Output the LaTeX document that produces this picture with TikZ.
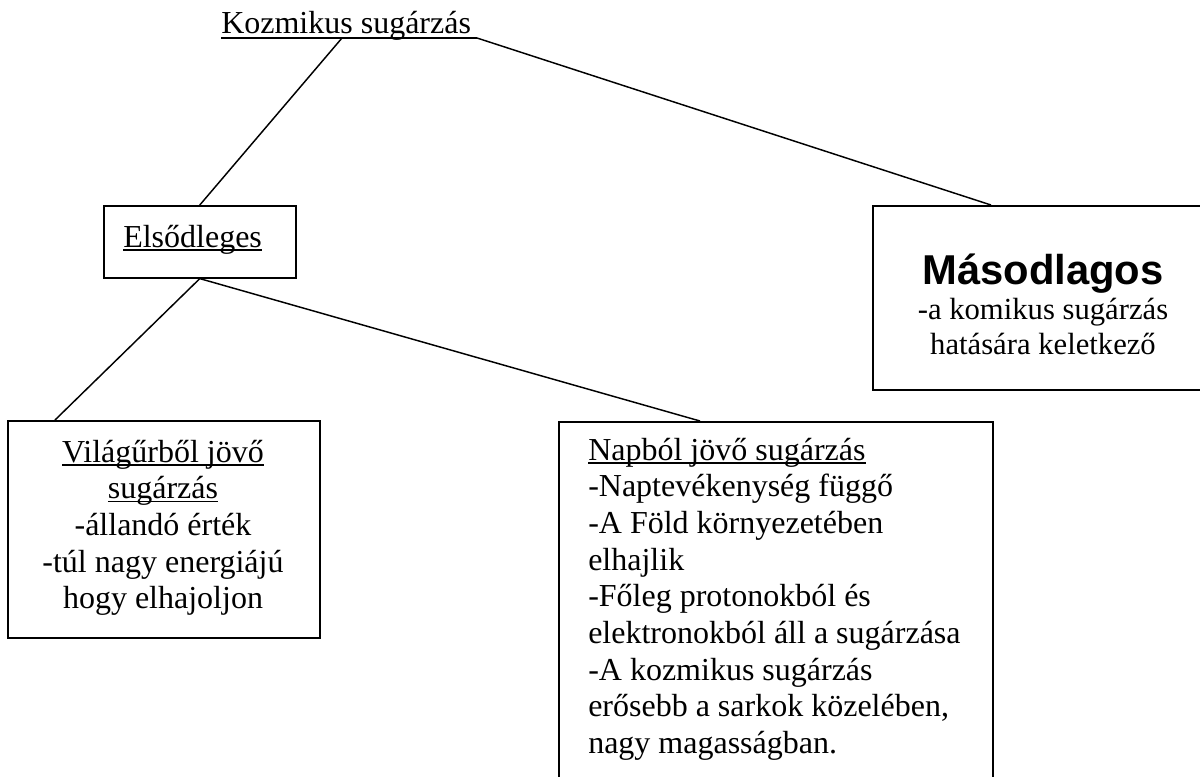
\documentclass[tikz,border=0pt]{standalone}
\usepackage{fontspec}
\setmainfont{Liberation Serif}
\setsansfont{Liberation Sans}
\usetikzlibrary{calc}
\newsavebox{\myulbox}
\newcommand{\myul}[1]{\leavevmode\sbox{\myulbox}{#1}\rlap{\rule[-2.8pt]{\wd\myulbox}{1pt}}\usebox{\myulbox}}
\begin{document}
\begin{tikzpicture}[x=0.75pt,y=-0.75pt,
  box/.style={draw, line width=1.2pt, rectangle, inner sep=0pt, anchor=north west},
  conn/.style={line width=1.1pt},
  txt/.style={inner sep=0pt, font=\fontsize{24}{27.5}\selectfont}]
\useasboundingbox (0,0) rectangle (1200,776);
\clip (0,0) rectangle (1200,776);
% title
\node[txt, anchor=base west] (title) at (221,33) {Kozmikus sugárzás};
\coordinate (ulL) at (221,38);
\coordinate (ulM) at (342,38);
\coordinate (ulR) at (477,38);
\draw[line width=2.2pt] (ulL) -- (ulR);
% Elsodleges
\node[box, minimum width=144pt, minimum height=54pt] (elso) at (103,205) {};
\node[txt, anchor=base west] (elsot) at (123,247) {\myul{Elsődleges}};
% Masodlagos
\node[box, minimum width=256.5pt, minimum height=138pt] (maso) at (872,205) {};
\node[txt, anchor=base, font=\fontsize{23}{26.3}\selectfont] (masot) at (1043,284) {\parbox[t]{247pt}{\centering{\sffamily\bfseries\fontsize{31.3}{31.3}\selectfont Másodlagos}\\
-a komikus sugárzás\\
hatására keletkező}};
% Vilagurbol
\node[box, minimum width=234pt, minimum height=162.75pt] (vil) at (7,420) {};
\node[txt, anchor=base] (vilt) at (163,462) {\parbox[t]{230pt}{\centering \myul{Világűrből jövő}\\
\myul{sugárzás}\\
-állandó érték\\
-túl nagy energiájú\\
hogy elhajoljon}};
% Napbol
\node[box, minimum width=325.5pt, minimum height=290pt] (nap) at (558,421) {};
\node[txt, anchor=base west] (napt) at (588,460) {\parbox[t]{310pt}{\raggedright \myul{Napból jövő sugárzás}\\
-Naptevékenység függő\\
-A Föld környezetében\\
elhajlik\\
-Főleg protonokból és\\
elektronokból áll a sugárzása\\
-A kozmikus sugárzás\\
erősebb a sarkok közelében,\\
nagy magasságban.}};
% connectors
\draw[conn] (ulM) -- (elso.north);
\draw[conn] (ulR) -- ($(maso.north west)+(119,0)$);
\draw[conn] (elso.south) -- ($(vil.north west)+(48,0)$);
\draw[conn] (elso.south) -- ($(nap.north west)+(142,0)$);
\end{tikzpicture}
\end{document}
